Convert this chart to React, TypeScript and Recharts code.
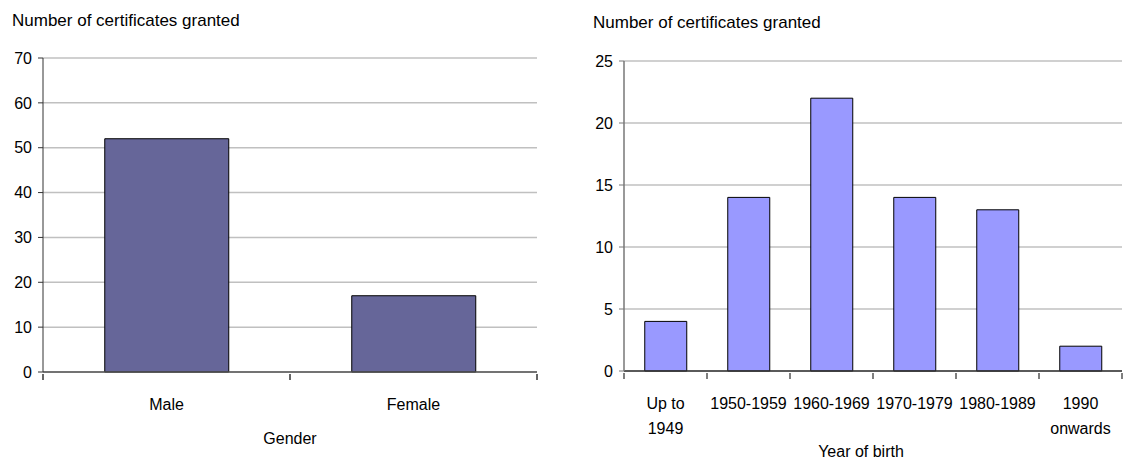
import { Bar, BarChart, CartesianGrid, Label, XAxis, YAxis } from 'recharts'

const genderCategories = ['Male', 'Female']
const genderCounts = [52, 17]
const genderTicks = [0, 10, 20, 30, 40, 50, 60, 70]

const birthCategories = ['Up to\n1949', '1950-1959', '1960-1969', '1970-1979', '1980-1989', '1990\nonwards']
const birthCounts = [4, 14, 22, 14, 13, 2]
const birthTicks = [0, 5, 10, 15, 20, 25]

const FONT = '"Liberation Sans", Arial, sans-serif'
const GRID = '#c0c0c0'

// category label plus the short Excel-style marks at the category edges
function CategoryTick(props: any) {
  const { x, y, payload, index, visibleTicksCount, markColor } = props
  const lines = String(payload.value).split('\n')
  const half = payload.offset || 0
  const isLast = index === visibleTicksCount - 1
  return (
    <g>
      {half > 0 && <line x1={x - half} y1={y} x2={x - half} y2={y + 6} stroke={markColor} strokeWidth={1.5} />}
      {half > 0 && isLast && <line x1={x + half} y1={y} x2={x + half} y2={y + 6} stroke={markColor} strokeWidth={1.5} />}
      <text x={x} y={y + 36} textAnchor="middle" fontSize={16} fontFamily={FONT} fill="#000">
        {lines.map((line, i) => (
          <tspan key={i} x={x} dy={i === 0 ? 0 : 25}>
            {line}
          </tspan>
        ))}
      </text>
    </g>
  )
}

const valueTick = { fontSize: 16, fontFamily: FONT, fill: '#000' }

function Title({ left, top }: { left: number; top: number }) {
  return (
    <div
      style={{
        position: 'absolute',
        left,
        top,
        fontFamily: FONT,
        fontSize: 17,
        lineHeight: '17px',
        color: '#000',
        whiteSpace: 'nowrap',
      }}
    >
      Number of certificates granted
    </div>
  )
}

export default function App() {
  const genderData = genderCategories.map((name, i) => ({ name, value: genderCounts[i] }))
  const birthData = birthCategories.map((name, i) => ({ name, value: birthCounts[i] }))

  return (
    <div style={{ position: 'absolute', left: 0, top: 0, width: 1128, height: 469, background: '#fff' }}>
      <Title left={12} top={12} />
      <Title left={593} top={14} />

      <div style={{ position: 'absolute', left: 0, top: 0 }}>
        <BarChart
          width={560}
          height={469}
          data={genderData}
          margin={{ top: 58, right: 23, left: 0, bottom: 0 }}
          barCategoryGap="25%"
        >
          <CartesianGrid vertical={false} stroke={GRID} strokeWidth={1.5} />
          <XAxis
            dataKey="name"
            height={97}
            tickLine={false}
            tickSize={0}
            interval={0}
            axisLine={{ stroke: '#555', strokeWidth: 1.5 }}
            tick={<CategoryTick markColor="#333" />}
          >
            <Label value="Gender" position="insideBottom" offset={25} fontSize={16} fontFamily={FONT} fill="#000" />
          </XAxis>
          <YAxis
            width={43}
            domain={[0, 70]}
            ticks={genderTicks}
            interval={0}
            tickSize={5}
            tickMargin={6}
            tick={valueTick}
            axisLine={{ stroke: '#333' }}
            tickLine={{ stroke: '#333' }}
          />
          <YAxis yAxisId="edge" orientation="right" width={0} tick={false} tickLine={false} axisLine={{ stroke: GRID, strokeWidth: 1.5 }} />
          <Bar dataKey="value" fill="#666699" stroke="#000" strokeWidth={1} isAnimationActive={false} />
        </BarChart>
      </div>

      <div style={{ position: 'absolute', left: 560, top: 0 }}>
        <BarChart
          width={568}
          height={469}
          data={birthData}
          margin={{ top: 61, right: 6, left: 0, bottom: 0 }}
          barCategoryGap="25%"
        >
          <CartesianGrid vertical={false} stroke={GRID} strokeWidth={1.5} />
          <XAxis
            dataKey="name"
            height={98}
            tickLine={false}
            tickSize={0}
            interval={0}
            axisLine={{ stroke: '#333', strokeWidth: 1.5 }}
            tick={<CategoryTick markColor="#555" />}
          >
            <Label value="Year of birth" position="insideBottom" offset={12} dx={-12} fontSize={16} fontFamily={FONT} fill="#000" />
          </XAxis>
          <YAxis
            width={64}
            domain={[0, 25]}
            ticks={birthTicks}
            interval={0}
            tickSize={5}
            tickMargin={6}
            tick={valueTick}
            axisLine={{ stroke: '#777', strokeWidth: 1.5 }}
            tickLine={{ stroke: '#777' }}
          />
          <YAxis yAxisId="edge" orientation="right" width={0} tick={false} tickLine={false} axisLine={{ stroke: GRID, strokeWidth: 1.5 }} />
          <Bar dataKey="value" fill="#9999ff" stroke="#000" strokeWidth={1} isAnimationActive={false} />
        </BarChart>
      </div>
    </div>
  )
}
